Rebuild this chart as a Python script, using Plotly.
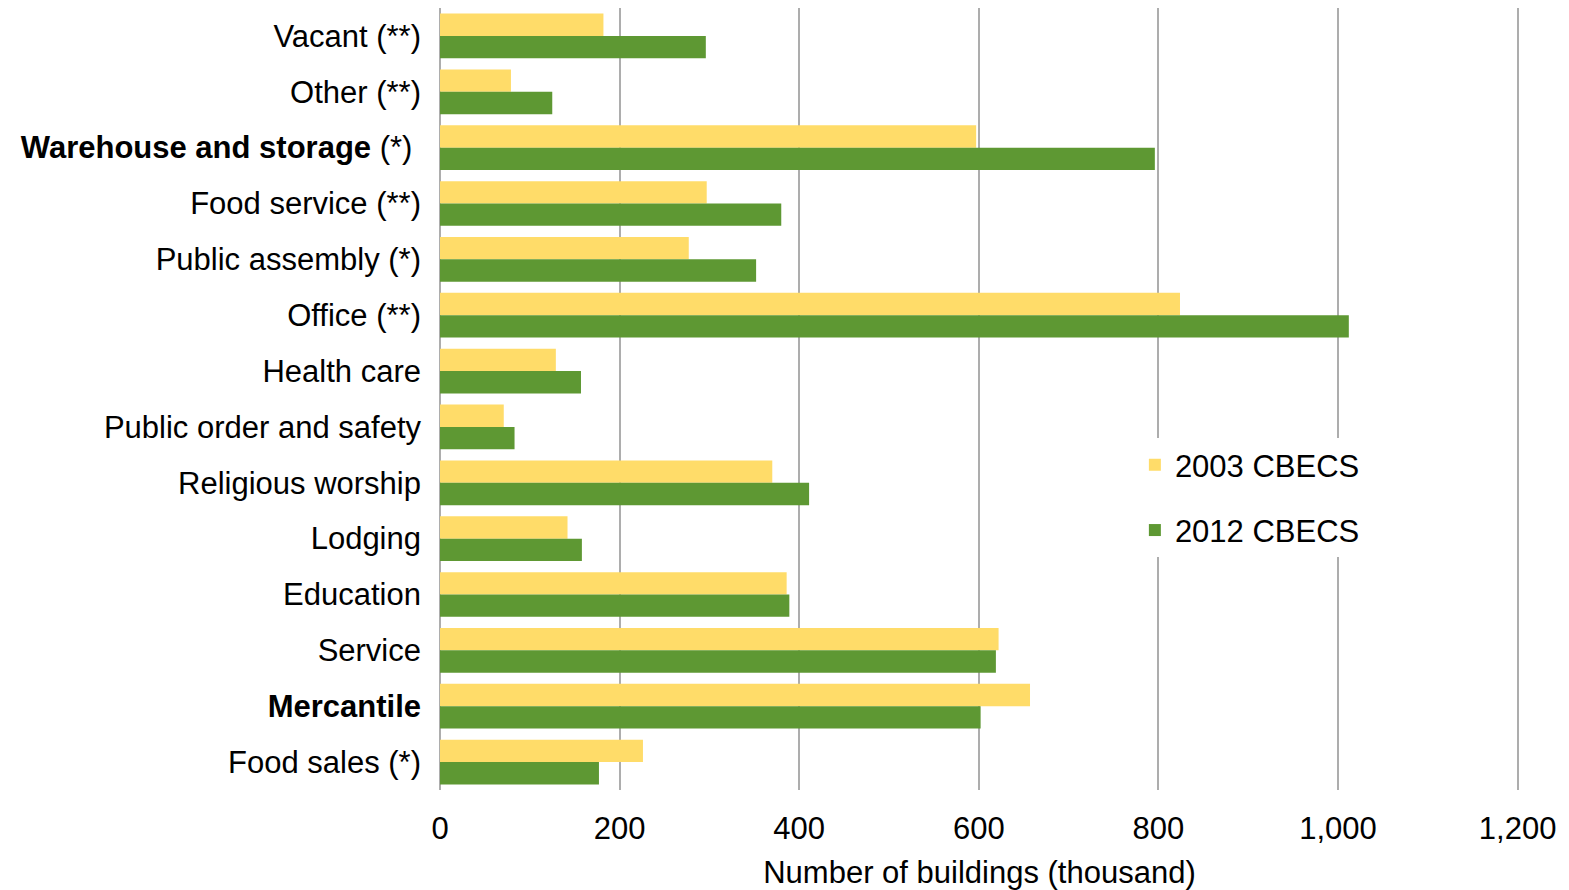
import plotly.graph_objects as go

categories = [
    "Vacant (**)",
    "Other (**)",
    "<b>Warehouse and storage</b> (*)&nbsp;",
    "Food service (**)",
    "Public assembly (*)",
    "Office (**)",
    "Health care",
    "Public order and safety",
    "Religious worship",
    "Lodging",
    "Education",
    "Service",
    "<b>Mercantile</b>",
    "Food sales (*)",
]
cbecs_2003 = [182, 79, 597, 297, 277, 824, 129, 71, 370, 142, 386, 622, 657, 226]
cbecs_2012 = [296, 125, 796, 380, 352, 1012, 157, 83, 411, 158, 389, 619, 602, 177]
x_ticks = [0, 200, 400, 600, 800, 1000, 1200]
x_tick_text = ["0", "200", "400", "600", "800", "1,000", "1,200"]

FONT = "Liberation Sans, Arial, sans-serif"
YELLOW = "#FFDC69"
GREEN = "#5E9833"
GRID = "#ADADAD"
FS = 31

fig = go.Figure()
fig.add_trace(go.Bar(
    y=categories, x=cbecs_2003, orientation="h", name="2003 CBECS",
    marker=dict(color=YELLOW, line=dict(width=0)), legendgroup="a",
))
fig.add_trace(go.Bar(
    y=categories, x=cbecs_2012, orientation="h", name="2012 CBECS",
    marker=dict(color=GREEN, line=dict(width=0)), legendgroup="b",
))

fig.update_layout(
    width=1569, height=890,
    margin=dict(l=440, r=50, t=8, b=100),
    paper_bgcolor="white", plot_bgcolor="white",
    font=dict(family=FONT, size=FS, color="black"),
    barmode="group", bargap=0.2, bargroupgap=0,
    showlegend=True,
    legend=dict(
        x=0.644, y=0.45, xanchor="left", yanchor="top",
        bgcolor="white", font=dict(size=FS),
        traceorder="grouped", tracegroupgap=22,
        itemwidth=30,
    ),
    xaxis=dict(
        range=[0, 1201.5], tickvals=x_ticks, ticktext=x_tick_text,
        showgrid=True, gridcolor=GRID, gridwidth=1.5,
        zeroline=True, zerolinecolor=GRID, zerolinewidth=1.5,
        ticks="", ticklabelstandoff=17, automargin=False,
        title=dict(text="Number of buildings (thousand)", standoff=18,
                   font=dict(size=FS)),
        tickfont=dict(size=FS),
        fixedrange=True,
    ),
    yaxis=dict(
        type="category", autorange="reversed", automargin=False,
        showgrid=False, ticks="", ticklabelstandoff=18,
        tickfont=dict(size=FS),
        fixedrange=True,
    ),
)

fig.write_html("out.html")
